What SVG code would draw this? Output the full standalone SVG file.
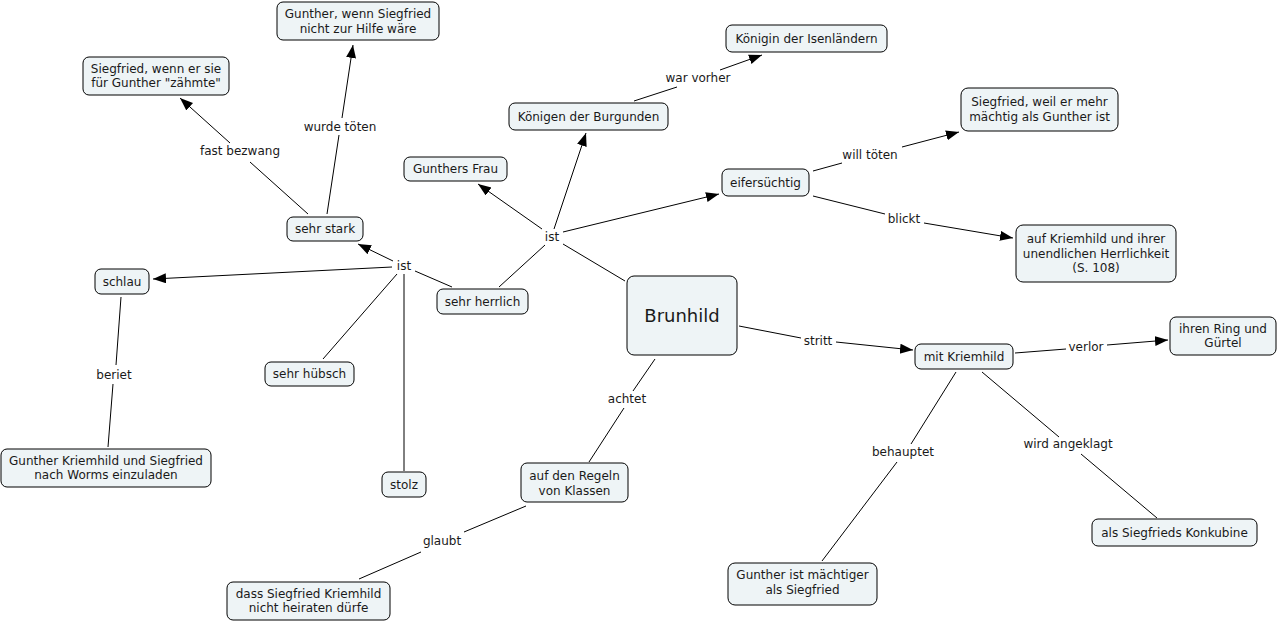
<svg xmlns="http://www.w3.org/2000/svg" width="1278" height="623" viewBox="0 0 1278 623">
<style>
.n rect{fill:#eef4f6;stroke:#000;stroke-width:1}
text{font-family:"DejaVu Sans",Verdana,sans-serif;font-size:12px;fill:#1a1a1a;text-anchor:middle}
.big{font-size:18px}
.c line{stroke:#000;stroke-width:1}
</style>
<defs>
<marker id="a" markerUnits="userSpaceOnUse" markerWidth="14" markerHeight="12" refX="13" refY="5" orient="auto">
<path d="M0,0 L13,5 L0,10 Z" fill="#000"/>
</marker>
</defs>
<rect width="1278" height="623" fill="#fff"/>
<g id="connectors" class="c">
<line x1="563" y1="244" x2="625" y2="281"/>
<line x1="499" y1="287" x2="545" y2="245"/>
<line x1="542" y1="229" x2="478" y2="184" marker-end="url(#a)"/>
<line x1="554" y1="229" x2="586" y2="133" marker-end="url(#a)"/>
<line x1="563" y1="232" x2="719" y2="194" marker-end="url(#a)"/>
<line x1="634" y1="101" x2="677" y2="87"/>
<line x1="720" y1="70" x2="762" y2="55" marker-end="url(#a)"/>
<line x1="813" y1="171" x2="842" y2="163"/>
<line x1="902" y1="147" x2="959" y2="132" marker-end="url(#a)"/>
<line x1="813" y1="196" x2="885" y2="214"/>
<line x1="924" y1="223" x2="1013" y2="238" marker-end="url(#a)"/>
<line x1="739" y1="326" x2="801" y2="338"/>
<line x1="836" y1="342" x2="913" y2="350" marker-end="url(#a)"/>
<line x1="1015" y1="353" x2="1066" y2="349"/>
<line x1="1107" y1="345" x2="1168" y2="340" marker-end="url(#a)"/>
<line x1="956" y1="372" x2="911" y2="444"/>
<line x1="897" y1="462" x2="822" y2="561"/>
<line x1="982" y1="372" x2="1059" y2="437"/>
<line x1="1081" y1="454" x2="1157" y2="518"/>
<line x1="655" y1="359" x2="633" y2="391"/>
<line x1="624" y1="408" x2="589" y2="462"/>
<line x1="526" y1="506" x2="464" y2="532"/>
<line x1="421" y1="552" x2="359" y2="579"/>
<line x1="415" y1="271" x2="452" y2="287"/>
<line x1="393" y1="261" x2="358" y2="244" marker-end="url(#a)"/>
<line x1="392" y1="267" x2="153" y2="279" marker-end="url(#a)"/>
<line x1="397" y1="274" x2="323" y2="359"/>
<line x1="404" y1="274" x2="404" y2="471"/>
<line x1="308" y1="214" x2="250" y2="162"/>
<line x1="230" y1="143" x2="180" y2="98" marker-end="url(#a)"/>
<line x1="327" y1="214" x2="339" y2="135"/>
<line x1="342" y1="118" x2="353" y2="45" marker-end="url(#a)"/>
<line x1="121" y1="297" x2="116" y2="365"/>
<line x1="113" y1="384" x2="108" y2="447"/>
</g>
<g id="labels">
<text x="404" y="270">ist</text>
<text x="552" y="241">ist</text>
<text x="240" y="155">fast bezwang</text>
<text x="340" y="131">wurde töten</text>
<text x="698" y="82">war vorher</text>
<text x="870" y="159">will töten</text>
<text x="904" y="223">blickt</text>
<text x="818" y="345">stritt</text>
<text x="1086" y="351">verlor</text>
<text x="627" y="403">achtet</text>
<text x="442" y="545">glaubt</text>
<text x="114" y="379">beriet</text>
<text x="903" y="456">behauptet</text>
<text x="1068" y="448">wird angeklagt</text>
</g>
<g id="n1" class="n"><rect x="277" y="2" width="162" height="38" rx="6"/><text x="358" y="18">Gunther, wenn Siegfried</text><text x="358" y="33">nicht zur Hilfe wäre</text></g>
<g id="n2" class="n"><rect x="83" y="57" width="146" height="38" rx="6"/><text x="156" y="73">Siegfried, wenn er sie</text><text x="156" y="87">für Gunther "zähmte"</text></g>
<g id="n3" class="n"><rect x="287" y="217" width="76" height="24" rx="6"/><text x="325" y="233">sehr stark</text></g>
<g id="n4" class="n"><rect x="95" y="269" width="54" height="25" rx="6"/><text x="122" y="286">schlau</text></g>
<g id="n5" class="n"><rect x="404" y="157" width="103" height="24" rx="6"/><text x="455.5" y="173">Gunthers Frau</text></g>
<g id="n6" class="n"><rect x="509" y="103" width="159" height="27" rx="6"/><text x="588.5" y="120.5">Königen der Burgunden</text></g>
<g id="n7" class="n"><rect x="726" y="25" width="161" height="27" rx="6"/><text x="806.5" y="42.5">Königin der Isenländern</text></g>
<g id="n8" class="n"><rect x="722" y="169" width="87" height="27" rx="6"/><text x="765.5" y="186.5">eifersüchtig</text></g>
<g id="n9" class="n"><rect x="437" y="289" width="91" height="25" rx="6"/><text x="482.5" y="305.5">sehr herrlich</text></g>
<g id="brunhild" class="n"><rect x="627" y="276" width="110" height="79" rx="7"/><text class="big" x="682" y="322">Brunhild</text></g>
<g id="n11" class="n"><rect x="961" y="88" width="157" height="43" rx="7"/><text x="1039.5" y="106">Siegfried, weil er mehr</text><text x="1039.5" y="121">mächtig als Gunther ist</text></g>
<g id="n12" class="n"><rect x="1016" y="225" width="160" height="57" rx="7"/><text x="1096" y="243">auf Kriemhild und ihrer</text><text x="1096" y="257.5">unendlichen Herrlichkeit</text><text x="1096" y="272">(S. 108)</text></g>
<g id="n13" class="n"><rect x="1170" y="317" width="106" height="38" rx="6"/><text x="1223" y="333">ihren Ring und</text><text x="1223" y="347">Gürtel</text></g>
<g id="n14" class="n"><rect x="915" y="344" width="98" height="25" rx="6"/><text x="964" y="360.5">mit Kriemhild</text></g>
<g id="n15" class="n"><rect x="265" y="362" width="89" height="24" rx="6"/><text x="309.5" y="378">sehr hübsch</text></g>
<g id="n16" class="n"><rect x="382" y="472" width="44" height="25" rx="6"/><text x="404" y="488.5">stolz</text></g>
<g id="n17" class="n"><rect x="1" y="449" width="210" height="38" rx="6"/><text x="106" y="465">Gunther Kriemhild und Siegfried</text><text x="106" y="479">nach Worms einzuladen</text></g>
<g id="n18" class="n"><rect x="227" y="582" width="163" height="38" rx="6"/><text x="308.5" y="598">dass Siegfried Kriemhild</text><text x="308.5" y="612">nicht heiraten dürfe</text></g>
<g id="n19" class="n"><rect x="521" y="463" width="107" height="39" rx="6"/><text x="574.5" y="480">auf den Regeln</text><text x="574.5" y="495">von Klassen</text></g>
<g id="n20" class="n"><rect x="728" y="563" width="149" height="42" rx="7"/><text x="802.5" y="579">Gunther ist mächtiger</text><text x="802.5" y="594">als Siegfried</text></g>
<g id="n21" class="n"><rect x="1092" y="519" width="165" height="27" rx="6"/><text x="1174.5" y="536.5">als Siegfrieds Konkubine</text></g>
</svg>
